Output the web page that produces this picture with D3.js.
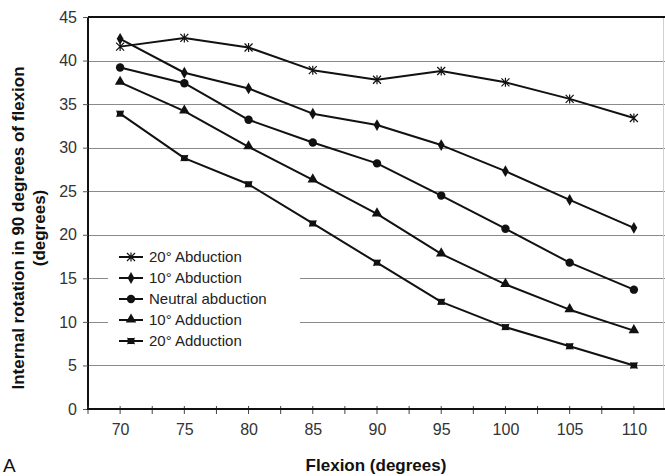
<!DOCTYPE html>
<html>
<head>
<meta charset="utf-8">
<script src="https://cdn.jsdelivr.net/npm/d3@7"></script>
<style>
  body { margin: 0; background: #fff; }
  svg { display: block; font-family: "Liberation Sans", Arial, sans-serif; }
</style>
</head>
<body>
<div id="chart"></div>
<script>
// --- 1. DATA ---
var flexion = [70, 75, 80, 85, 90, 95, 100, 105, 110];
var seriesNames = ["20\u00b0 Abduction", "10\u00b0 Abduction", "Neutral abduction", "10\u00b0 Adduction", "20\u00b0 Adduction"];
var abd20 = [41.6, 42.6, 41.5, 38.9, 37.8, 38.8, 37.5, 35.6, 33.4];
var abd10 = [42.5, 38.6, 36.8, 33.9, 32.6, 30.3, 27.3, 24.0, 20.8];
var neutral = [39.2, 37.4, 33.2, 30.6, 28.2, 24.5, 20.7, 16.8, 13.7];
var add10 = [37.5, 34.2, 30.1, 26.3, 22.4, 17.8, 14.3, 11.4, 9.0];
var add20 = [33.9, 28.8, 25.8, 21.3, 16.8, 12.3, 9.4, 7.2, 5.0];
var yTicks = [0, 5, 10, 15, 20, 25, 30, 35, 40, 45];
var markers = ["asterisk", "diamond", "circle", "triangle", "square"];

var allSeries = [abd20, abd10, neutral, add10, add20].map(function(vals, i) {
    return { name: seriesNames[i], marker: markers[i], values: vals };
});

// --- 2. SETUP ---
var width = 665, height = 476;
// note: "top" is taken by window.top, so plot edges get their own names
var plotL = 88, plotT = 17, plotR = 666, plotB = 409;

var svg = d3.select("#chart").append("svg")
    .attr("width", width)
    .attr("height", height);

var x = d3.scalePoint().domain(flexion).range([plotL, plotR]).padding(0.5);
// half-category positions for the small tick marks on the x axis
var xHalf = d3.scaleLinear().domain([-0.5, flexion.length - 0.5]).range([plotL, plotR]);
var y = d3.scaleLinear().domain([0, 45]).range([plotB, plotT]);

// --- 3. GRID + FRAME ---
svg.append("g").selectAll("line")
    .data(yTicks.filter(function(t) { return t > 0 && t < 45; }))
    .enter().append("line")
    .attr("x1", plotL).attr("x2", plotR)
    .attr("y1", function(d) { return Math.round(y(d)) + 0.5; })
    .attr("y2", function(d) { return Math.round(y(d)) + 0.5; })
    .attr("stroke", "#8a8a8a")
    .attr("stroke-width", 1);

// faint right edge of the plot area
svg.append("line")
    .attr("x1", 663.5).attr("x2", 663.5).attr("y1", plotT).attr("y2", plotB)
    .attr("stroke", "#d0d0d0").attr("stroke-width", 1);

// top border (heavy)
svg.append("line")
    .attr("x1", plotL).attr("x2", plotR).attr("y1", y(45)).attr("y2", y(45))
    .attr("stroke", "#111").attr("stroke-width", 2);

// --- 4. AXES ---
var yAxis = svg.append("g")
    .attr("transform", "translate(" + plotL + ",0)")
    .call(d3.axisLeft(y).tickValues(yTicks).tickSize(5).tickPadding(6));
yAxis.select(".domain").attr("stroke", "#111").attr("stroke-width", 2)
    .attr("d", "M0," + plotT + "V" + plotB);
yAxis.selectAll(".tick line").attr("stroke", "#555");
yAxis.selectAll(".tick text").attr("font-size", 16).attr("fill", "#333")
    .attr("font-family", "Liberation Sans, Arial, sans-serif");

var xAxis = svg.append("g")
    .attr("transform", "translate(0," + plotB + ")")
    .call(d3.axisBottom(x).tickSize(0).tickPadding(15));
xAxis.select(".domain").remove();
xAxis.selectAll(".tick text").attr("font-size", 16).attr("fill", "#333")
    .attr("font-family", "Liberation Sans, Arial, sans-serif");

// small crossing ticks every half category
svg.append("g").selectAll("line")
    .data(d3.range(-0.5, flexion.length, 0.5))
    .enter().append("line")
    .attr("x1", function(d) { return xHalf(d); })
    .attr("x2", function(d) { return xHalf(d); })
    .attr("y1", plotB - 3).attr("y2", plotB + 5)
    .attr("stroke", "#444").attr("stroke-width", 1);

svg.append("line")
    .attr("x1", plotL - 1).attr("x2", plotR).attr("y1", plotB).attr("y2", plotB)
    .attr("stroke", "#111").attr("stroke-width", 2);

// --- 5. LEGEND BACKGROUND (sits over the gridlines) ---
svg.append("rect")
    .attr("x", 108).attr("y", 245).attr("width", 192).attr("height", 107)
    .attr("fill", "#fff");

// --- 6. SERIES ---
function drawMarker(g, type, cx, cy) {
    if (type === "circle") {
        g.append("circle").attr("cx", cx).attr("cy", cy).attr("r", 4.2).attr("fill", "#111");
    } else if (type === "diamond") {
        g.append("path").attr("d", d3.symbol().type(d3.symbolDiamond).size(40)())
            .attr("transform", "translate(" + cx + "," + cy + ")").attr("fill", "#111");
    } else if (type === "triangle") {
        g.append("path").attr("d", d3.symbol().type(d3.symbolTriangle).size(48)())
            .attr("transform", "translate(" + cx + "," + (cy - 0.5) + ")").attr("fill", "#111");
    } else if (type === "square") {
        g.append("path").attr("d", "M-4,-3.5L0,-1.5L4,-3.5L3,0L4,3.5L0,1.5L-4,3.5L-3,0Z")
            .attr("transform", "translate(" + cx + "," + cy + ")").attr("fill", "#111");
        g.append("rect").attr("x", cx - 3).attr("y", cy - 3).attr("width", 6).attr("height", 6).attr("fill", "#111");
    } else if (type === "asterisk") {
        var s = 4;
        g.append("path")
            .attr("d", "M" + (cx - s) + "," + (cy - s) + "L" + (cx + s) + "," + (cy + s) +
                       "M" + (cx - s) + "," + (cy + s) + "L" + (cx + s) + "," + (cy - s) +
                       "M" + cx + "," + (cy - s - 0.5) + "L" + cx + "," + (cy + s + 0.5))
            .attr("stroke", "#111").attr("stroke-width", 1.2).attr("fill", "none");
    }
}

var line = d3.line()
    .x(function(d, i) { return x(flexion[i]); })
    .y(function(d) { return y(d); });

allSeries.forEach(function(s) {
    var g = svg.append("g").attr("class", "series");
    g.append("path")
        .datum(s.values)
        .attr("d", line)
        .attr("fill", "none")
        .attr("stroke", "#111")
        .attr("stroke-width", 2)
        .attr("stroke-linejoin", "round");
    s.values.forEach(function(v, i) {
        drawMarker(g, s.marker, x(flexion[i]), y(v));
    });
});

// --- 7. LEGEND ENTRIES ---
var legend = svg.append("g").attr("class", "legend");
allSeries.forEach(function(s, i) {
    var ly = 257 + i * 21;
    legend.append("line")
        .attr("x1", 119).attr("x2", 143).attr("y1", ly).attr("y2", ly)
        .attr("stroke", "#111").attr("stroke-width", 2);
    drawMarker(legend, s.marker, 131, ly);
    legend.append("text")
        .attr("x", 149).attr("y", ly + 5)
        .attr("font-size", 15).attr("fill", "#222")
        .text(s.name);
});

// --- 8. TITLES ---
var yTitle = svg.append("text")
    .attr("transform", "translate(0,228) rotate(-90)")
    .attr("text-anchor", "middle")
    .attr("font-size", 17).attr("font-weight", "bold").attr("fill", "#111");
yTitle.append("tspan").attr("x", 0).attr("y", 24).text("Internal rotation in 90 degrees of flexion");
yTitle.append("tspan").attr("x", 0).attr("y", 45).text("(degrees)");

svg.append("text")
    .attr("x", 376).attr("y", 471)
    .attr("text-anchor", "middle")
    .attr("font-size", 17).attr("font-weight", "bold").attr("fill", "#111")
    .text("Flexion (degrees)");

svg.append("text")
    .attr("x", 3).attr("y", 472)
    .attr("font-size", 19).attr("fill", "#111")
    .text("A");
</script>
</body>
</html>
